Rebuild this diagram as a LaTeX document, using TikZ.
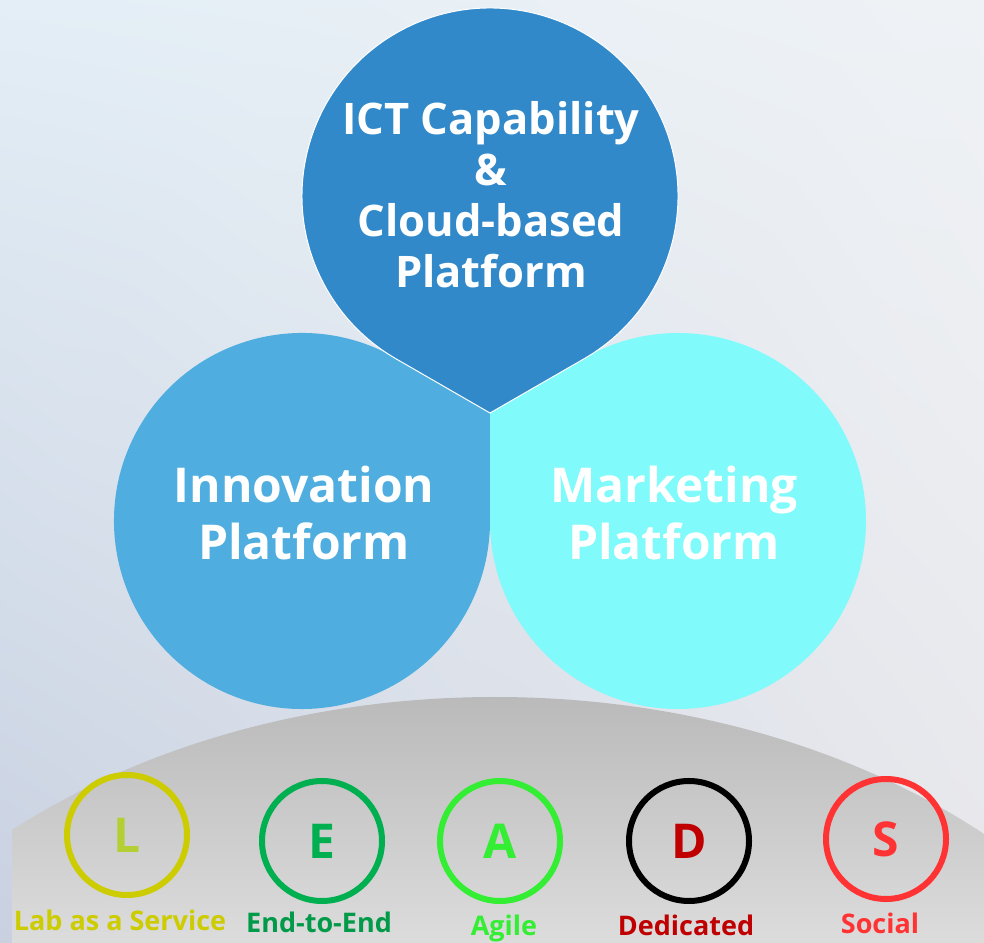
\documentclass[tikz,border=0pt]{standalone}
\usepackage{fontspec}
\setmainfont{Open Sans}
\usetikzlibrary{positioning,shadings}
\definecolor{bgtl}{HTML}{E3EEF6}
\definecolor{bgtr}{HTML}{EFF2F5}
\definecolor{bgbl}{HTML}{C9D1E1}
\definecolor{bgbr}{HTML}{E7E7EB}
\definecolor{dometop}{HTML}{BABABA}
\definecolor{domebot}{HTML}{DCDCDC}
\definecolor{ictblue}{HTML}{3189CA}
\definecolor{innoblue}{HTML}{4FAEDF}
\definecolor{markcyan}{HTML}{80FAFA}
\definecolor{lring}{HTML}{CCCC00}
\definecolor{lchar}{HTML}{B3CF33}
\definecolor{egreen}{HTML}{00B050}
\definecolor{eword}{HTML}{009A48}
\definecolor{agreen}{HTML}{33EE33}
\definecolor{dred}{HTML}{C00000}
\definecolor{sred}{HTML}{FF3333}
\tikzset{every node/.style={font=\bfseries}}
\tikzset{plat/.style={text=white, align=center, inner sep=0pt,
    font=\bfseries\fontsize{48}{57}\selectfont}}
\tikzset{ring/.style={shape=circle, draw, line width=6pt, minimum size=120pt,
    inner sep=0pt, font=\bfseries\fontsize{48}{48}\selectfont}}
\tikzset{word/.style={anchor=base, inner sep=0pt,
    font=\bfseries\fontsize{27}{27}\selectfont}}

\begin{document}
\begin{tikzpicture}[x=1pt, y=1pt]
    \useasboundingbox (0,0) rectangle (984,942);
    \shade[upper left=bgtl, upper right=bgtr, lower left=bgbl, lower right=bgbr]
      (0,0) rectangle (984,942);
    % grey dome
    \begin{scope}
      \clip (12,0) rectangle (984,942);
      \clip (495,-275) ellipse [x radius=723, y radius=520];
      \shade[top color=dometop, bottom color=domebot] (0,0) rectangle (984,246);
    \end{scope}
    % three drops with one common tip
    \coordinate (tip) at (490,529);
    \coordinate (ci) at (302,421);
    \coordinate (cm) at (678,421);
    \coordinate (ct) at (490,746);
    \fill[innoblue] (tip) -- ([shift={(60:188)}]ci)
      arc[start angle=60, end angle=360, radius=188] -- cycle;
    \fill[markcyan] (tip) -- ([shift={(180:188)}]cm)
      arc[start angle=180, end angle=480, radius=188] -- cycle;
    \filldraw[fill=ictblue, draw=white, line width=1pt] (tip) -- ([shift={(300:188)}]ct)
      arc[start angle=300, end angle=600, radius=188] -- cycle;
    \node[plat, font=\bfseries\fontsize{43.5}{51}\selectfont] (ict) at (491,747)
      {ICT Capability\\\&\\Cloud-based\\Platform};
    \node[plat] (inno) at (304,429) {Innovation\\Platform};
    \node[plat] (mark) at (674,429) {Marketing\\Platform};
    % LEADS
    \node[ring, draw=lring, text=lchar] (l) at (127,107) {L};
    \node[ring, draw=egreen, text=egreen] (e) at (322,101) {E};
    \node[ring, draw=agreen, text=agreen] (a) at (500,101) {A};
    \node[ring, draw=black, text=dred] (d) at (689,101) {D};
    \node[ring, draw=sred, text=sred] (s) at (886,103) {S};
    \node[word, text=lring] (lw) at (120,12) {Lab as a Service};
    \node[word, text=eword] (ew) at (319,10) {End-to-End};
    \node[word, text=agreen] (aw) at (504,7) {Agile};
    \node[word, text=dred] (dw) at (686,7) {Dedicated};
    \node[word, text=sred] (sw) at (880,9) {Social};
\end{tikzpicture}
\end{document}
